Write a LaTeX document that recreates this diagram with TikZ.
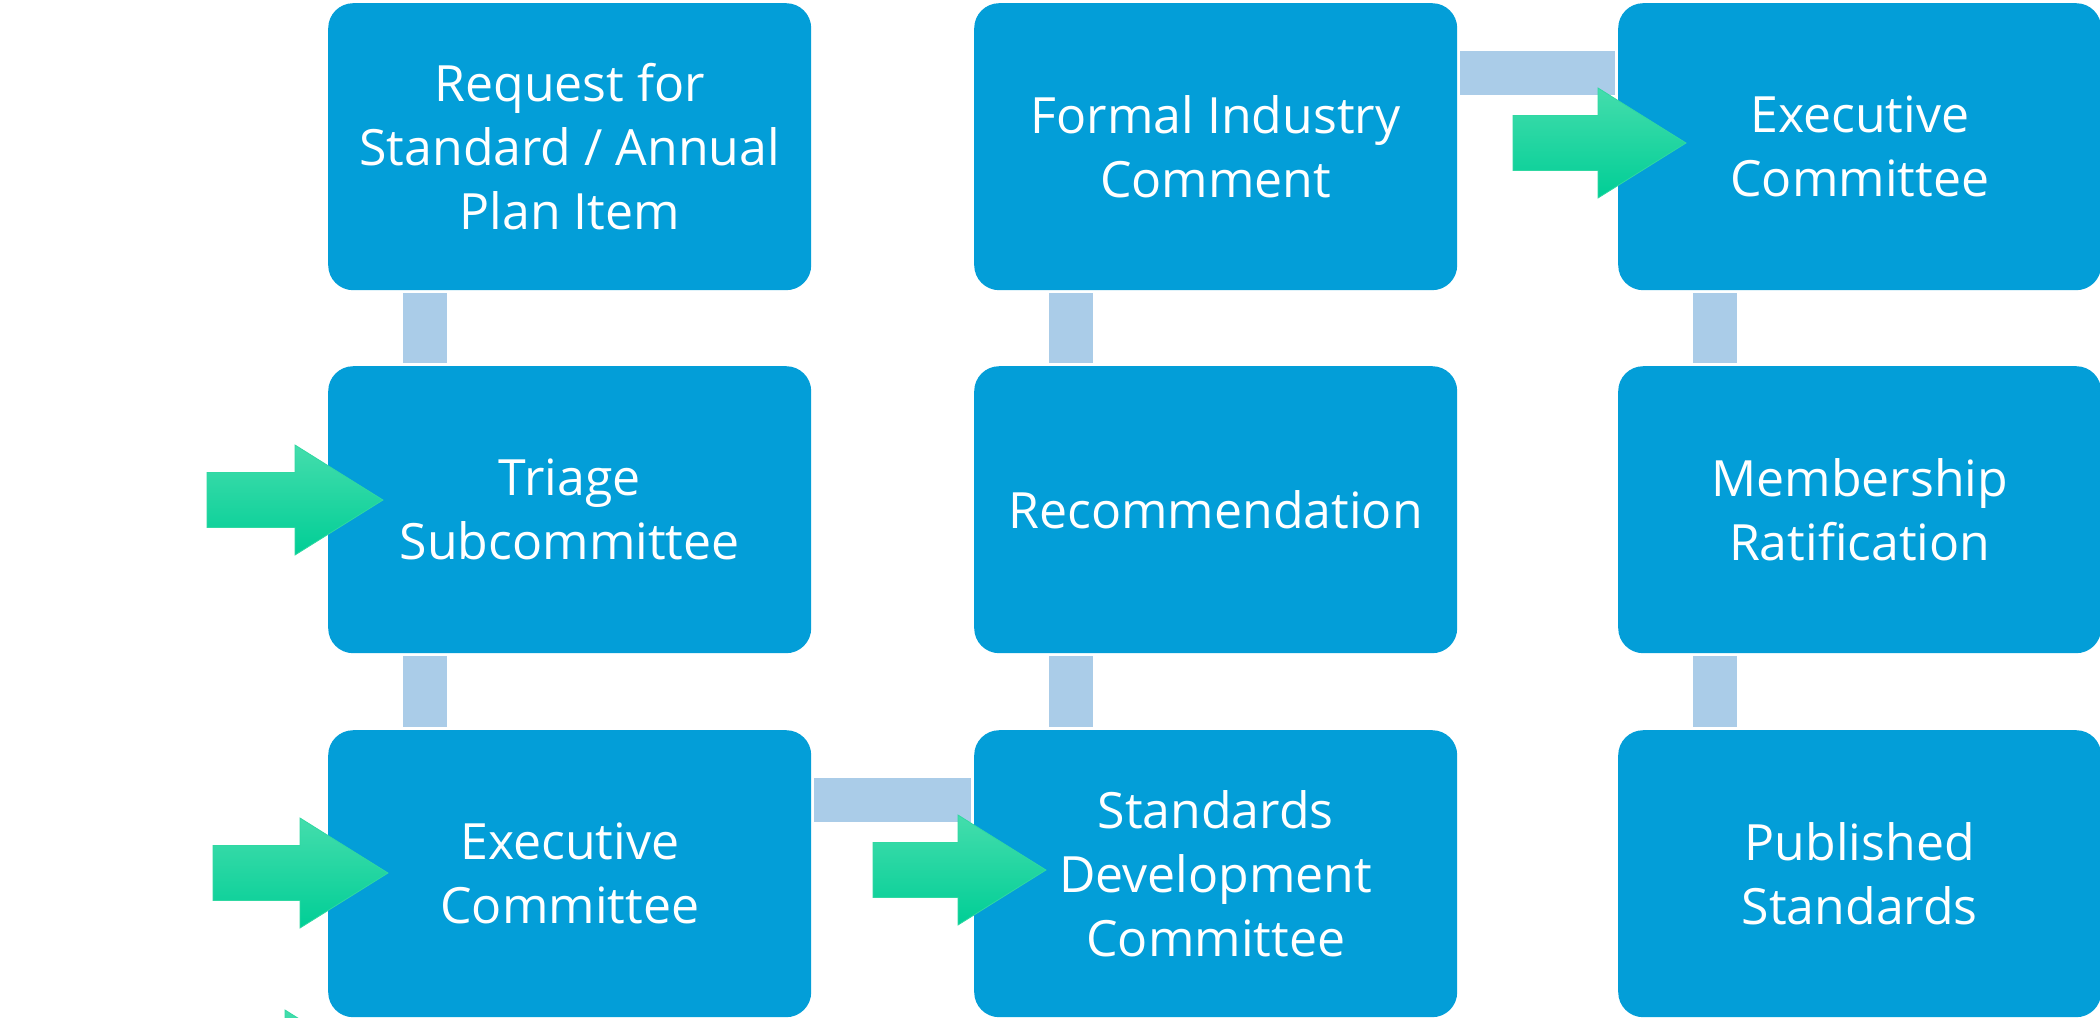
\documentclass[tikz,border=0pt]{standalone}
\usepackage{fontspec}
\setmainfont{Open Sans}
\definecolor{boxblue}{HTML}{039ED8}
\definecolor{connblue}{HTML}{AACCE8}
\definecolor{arrtop}{HTML}{44DDAC}
\definecolor{arrbot}{HTML}{00CE96}
\definecolor{arredge}{HTML}{30D8A2}
\newcommand\greenarrow[3]{%
  \path[garrow] (#1,#2) -- ++(-88,-55) -- ++(0,27.5) -- (#1-#3,#2-27.5)
    -- (#1-#3,#2+27.5) -- (#1-88,#2+27.5) -- (#1-88,#2+55) -- cycle;}
\begin{document}
\begin{tikzpicture}[x=1pt,y=-1pt,
  box/.style={fill=boxblue, rounded corners=25pt, minimum width=483pt,
    minimum height=287pt, text=white, align=center, anchor=north west,
    font=\fontsize{50}{64}\selectfont, inner sep=0pt},
  conn/.style={fill=connblue},
  garrow/.style={top color=arrtop, bottom color=arrbot, draw=arredge, line width=0.8pt}]
\useasboundingbox (0,0) rectangle (2100,1017);
\clip (0,0) rectangle (2100,1017);
% boxes
\node[box] (A) at (328,3)   {Request for\\Standard / Annual\\Plan Item};
\node[box] (B) at (328,366) {Triage\\Subcommittee};
\node[box] (C) at (328,730) {Executive\\Committee};
\node[box] (D) at (974,730) {Standards\\Development\\Committee};
\node[box] (E) at (974,366) {Recommendation};
\node[box] (F) at (974,3)   {Formal Industry\\Comment};
\node[box] (G) at (1618,3)  {Executive\\Committee};
\node[box] (H) at (1618,366){Membership\\Ratification};
\node[box] (I) at (1618,730){Published\\Standards};
% connectors
\fill[conn] ([xshift=75pt,yshift=-3pt]A.south west) rectangle ([xshift=119pt,yshift=3pt]B.north west);
\fill[conn] ([xshift=75pt,yshift=-3pt]B.south west) rectangle ([xshift=119pt,yshift=3pt]C.north west);
\fill[conn] ([xshift=3pt,yshift=-48pt]C.north east) rectangle ([xshift=-3pt,yshift=-92pt]D.north west);
\fill[conn] ([xshift=75pt,yshift=3pt]D.north west) rectangle ([xshift=119pt,yshift=-3pt]E.south west);
\fill[conn] ([xshift=75pt,yshift=3pt]E.north west) rectangle ([xshift=119pt,yshift=-3pt]F.south west);
\fill[conn] ([xshift=3pt,yshift=-48pt]F.north east) rectangle ([xshift=-3pt,yshift=-92pt]G.north west);
\fill[conn] ([xshift=75pt,yshift=-3pt]G.south west) rectangle ([xshift=119pt,yshift=3pt]H.north west);
\fill[conn] ([xshift=75pt,yshift=-3pt]H.south west) rectangle ([xshift=119pt,yshift=3pt]I.north west);
% green arrows
\greenarrow{383}{500}{176}
\greenarrow{388}{873}{175}
\greenarrow{1046}{870}{173}
\greenarrow{1686}{143}{173}
\greenarrow{373}{1065}{176}
\end{tikzpicture}
\end{document}
